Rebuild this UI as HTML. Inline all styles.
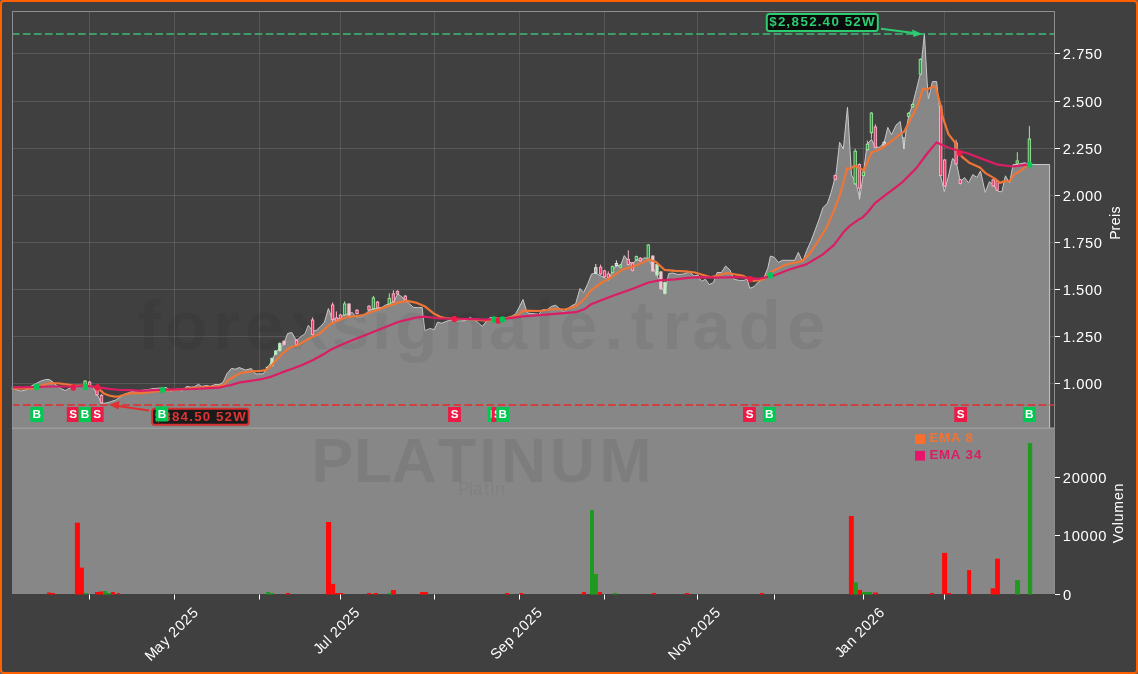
<!DOCTYPE html>
<html><head><meta charset="utf-8"><title>Platinum</title>
<style>html,body{margin:0;padding:0;background:#404040;width:1138px;height:674px;overflow:hidden}</style>
</head><body>
<svg width="1138" height="674" viewBox="0 0 1138 674" style="display:block;will-change:transform"><rect x="0" y="0" width="1138" height="674" fill="#5c5c5c"/><rect x="0" y="0" width="1138" height="674" rx="4" fill="#ff6000"/><rect x="2" y="2" width="1134" height="670" rx="2" fill="#404040"/><g fill="#fff" fill-opacity="0.12"><rect x="89" y="11" width="1" height="417"/><rect x="174" y="11" width="1" height="417"/><rect x="259" y="11" width="1" height="417"/><rect x="340" y="11" width="1" height="417"/><rect x="434" y="11" width="1" height="417"/><rect x="519" y="11" width="1" height="417"/><rect x="604" y="11" width="1" height="417"/><rect x="697" y="11" width="1" height="417"/><rect x="774" y="11" width="1" height="417"/><rect x="863" y="11" width="1" height="417"/><rect x="944" y="11" width="1" height="417"/><rect x="12" y="53" width="1042" height="1"/><rect x="12" y="101" width="1042" height="1"/><rect x="12" y="148" width="1042" height="1"/><rect x="12" y="195" width="1042" height="1"/><rect x="12" y="242" width="1042" height="1"/><rect x="12" y="289" width="1042" height="1"/><rect x="12" y="336" width="1042" height="1"/><rect x="12" y="383" width="1042" height="1"/></g><polygon points="12.5,428.0 12.5,388.5 20.5,391.0 26.0,390.0 32.0,385.6 37.0,383.0 41.0,381.0 45.8,379.5 49.0,379.5 52.2,381.3 56.0,385.0 60.6,388.4 65.4,390.6 69.0,388.4 75.0,387.0 81.7,386.0 87.0,386.0 91.2,385.5 93.3,388.1 95.9,391.8 98.5,397.1 100.1,400.8 101.7,402.9 103.8,403.4 108.0,402.6 111.7,401.3 115.4,400.2 117.5,398.7 120.7,396.8 124.9,393.9 128.1,392.9 132.8,391.3 137.6,390.8 148.8,389.4 153.2,388.6 161.0,388.0 166.4,387.5 170.8,391.2 177.8,388.6 182.2,391.2 186.6,386.4 191.0,387.2 194.5,386.8 198.5,384.2 201.5,386.4 206.8,385.5 210.3,386.4 214.7,384.6 219.1,384.6 223.0,382.4 227.0,373.6 231.4,368.4 235.3,369.2 239.3,367.5 245.4,370.0 251.3,368.6 255.8,374.0 263.2,373.8 267.4,367.8 271.5,361.5 275.7,352.2 280.9,347.0 284.0,343.4 287.6,333.5 291.8,332.5 296.5,340.8 300.6,336.6 304.8,334.0 308.4,325.2 312.6,331.4 316.2,330.4 320.3,326.7 324.5,322.1 328.4,308.5 332.2,319.0 337.3,319.0 345.0,314.7 352.4,312.5 356.1,316.9 361.3,316.9 364.3,315.0 369.5,310.2 376.2,308.4 382.1,307.3 385.4,305.0 389.5,303.9 394.0,301.3 397.7,293.9 401.4,296.5 404.4,299.1 408.8,303.2 413.3,307.3 417.7,307.6 422.2,307.6 422.9,314.7 424.9,330.6 430.0,328.5 434.4,329.6 437.5,322.2 441.7,323.2 447.0,321.1 451.2,320.0 457.6,321.1 465.0,320.6 470.3,317.5 477.7,322.2 482.4,326.4 486.0,321.7 490.3,317.5 500.0,318.0 507.2,318.0 511.4,316.4 515.6,313.8 518.8,308.0 523.0,299.5 526.2,310.0 528.3,313.2 538.8,314.3 543.0,309.5 547.3,309.5 551.5,306.4 555.7,305.3 560.0,309.0 563.6,311.7 567.3,309.0 571.5,305.9 575.7,303.7 580.0,288.5 583.7,292.5 587.9,283.5 591.6,274.0 595.8,273.0 600.0,275.6 605.3,278.2 608.5,280.3 612.7,269.8 616.4,265.6 620.6,265.6 624.3,255.6 628.5,261.4 632.7,263.5 636.4,259.8 640.6,260.3 644.3,257.7 648.5,258.7 652.8,267.7 657.0,275.0 661.2,286.7 664.9,293.0 668.6,273.5 672.8,273.0 678.0,274.5 683.3,274.0 689.7,271.9 693.9,276.1 698.0,275.0 701.3,281.4 705.5,279.3 709.2,284.6 713.5,282.5 717.1,272.5 721.4,272.5 725.6,266.1 729.8,269.8 734.0,279.3 739.3,280.4 744.6,280.4 746.7,277.7 749.8,288.3 754.0,286.7 758.3,282.0 763.5,278.8 767.8,268.2 770.4,256.1 774.1,257.2 778.3,262.4 782.5,260.3 789.9,260.3 794.7,260.3 798.3,252.4 802.6,261.9 806.8,250.3 811.0,241.0 815.0,230.4 819.2,219.1 822.8,207.9 827.5,203.1 831.1,192.5 836.0,174.2 839.6,142.3 843.3,149.0 847.5,107.1 851.5,174.9 856.0,183.0 859.7,198.6 863.4,173.4 867.0,144.5 871.5,139.3 874.5,146.0 879.0,147.5 884.0,143.0 887.8,127.4 891.5,134.9 896.0,125.2 900.2,121.5 902.4,137.0 903.9,149.0 906.1,129.7 909.1,114.0 912.3,106.0 916.4,89.5 920.4,73.4 924.4,33.4 927.0,80.0 928.4,98.8 930.4,90.8 932.4,81.6 936.6,81.6 939.5,108.6 940.5,175.3 944.3,191.7 948.2,177.2 952.5,158.3 956.4,162.8 960.3,181.7 964.5,177.5 968.6,182.9 972.8,174.6 977.0,177.5 980.5,171.0 985.2,192.4 989.4,181.7 993.6,185.2 997.7,191.2 1001.9,191.8 1005.4,175.8 1009.6,182.9 1013.1,164.5 1017.3,164.5 1025.0,162.7 1028.5,164.5 1049.6,164.5 1049.6,428.0" fill="#878787"/><polyline points="12.5,388.5 20.5,391.0 26.0,390.0 32.0,385.6 37.0,383.0 41.0,381.0 45.8,379.5 49.0,379.5 52.2,381.3 56.0,385.0 60.6,388.4 65.4,390.6 69.0,388.4 75.0,387.0 81.7,386.0 87.0,386.0 91.2,385.5 93.3,388.1 95.9,391.8 98.5,397.1 100.1,400.8 101.7,402.9 103.8,403.4 108.0,402.6 111.7,401.3 115.4,400.2 117.5,398.7 120.7,396.8 124.9,393.9 128.1,392.9 132.8,391.3 137.6,390.8 148.8,389.4 153.2,388.6 161.0,388.0 166.4,387.5 170.8,391.2 177.8,388.6 182.2,391.2 186.6,386.4 191.0,387.2 194.5,386.8 198.5,384.2 201.5,386.4 206.8,385.5 210.3,386.4 214.7,384.6 219.1,384.6 223.0,382.4 227.0,373.6 231.4,368.4 235.3,369.2 239.3,367.5 245.4,370.0 251.3,368.6 255.8,374.0 263.2,373.8 267.4,367.8 271.5,361.5 275.7,352.2 280.9,347.0 284.0,343.4 287.6,333.5 291.8,332.5 296.5,340.8 300.6,336.6 304.8,334.0 308.4,325.2 312.6,331.4 316.2,330.4 320.3,326.7 324.5,322.1 328.4,308.5 332.2,319.0 337.3,319.0 345.0,314.7 352.4,312.5 356.1,316.9 361.3,316.9 364.3,315.0 369.5,310.2 376.2,308.4 382.1,307.3 385.4,305.0 389.5,303.9 394.0,301.3 397.7,293.9 401.4,296.5 404.4,299.1 408.8,303.2 413.3,307.3 417.7,307.6 422.2,307.6 422.9,314.7 424.9,330.6 430.0,328.5 434.4,329.6 437.5,322.2 441.7,323.2 447.0,321.1 451.2,320.0 457.6,321.1 465.0,320.6 470.3,317.5 477.7,322.2 482.4,326.4 486.0,321.7 490.3,317.5 500.0,318.0 507.2,318.0 511.4,316.4 515.6,313.8 518.8,308.0 523.0,299.5 526.2,310.0 528.3,313.2 538.8,314.3 543.0,309.5 547.3,309.5 551.5,306.4 555.7,305.3 560.0,309.0 563.6,311.7 567.3,309.0 571.5,305.9 575.7,303.7 580.0,288.5 583.7,292.5 587.9,283.5 591.6,274.0 595.8,273.0 600.0,275.6 605.3,278.2 608.5,280.3 612.7,269.8 616.4,265.6 620.6,265.6 624.3,255.6 628.5,261.4 632.7,263.5 636.4,259.8 640.6,260.3 644.3,257.7 648.5,258.7 652.8,267.7 657.0,275.0 661.2,286.7 664.9,293.0 668.6,273.5 672.8,273.0 678.0,274.5 683.3,274.0 689.7,271.9 693.9,276.1 698.0,275.0 701.3,281.4 705.5,279.3 709.2,284.6 713.5,282.5 717.1,272.5 721.4,272.5 725.6,266.1 729.8,269.8 734.0,279.3 739.3,280.4 744.6,280.4 746.7,277.7 749.8,288.3 754.0,286.7 758.3,282.0 763.5,278.8 767.8,268.2 770.4,256.1 774.1,257.2 778.3,262.4 782.5,260.3 789.9,260.3 794.7,260.3 798.3,252.4 802.6,261.9 806.8,250.3 811.0,241.0 815.0,230.4 819.2,219.1 822.8,207.9 827.5,203.1 831.1,192.5 836.0,174.2 839.6,142.3 843.3,149.0 847.5,107.1 851.5,174.9 856.0,183.0 859.7,198.6 863.4,173.4 867.0,144.5 871.5,139.3 874.5,146.0 879.0,147.5 884.0,143.0 887.8,127.4 891.5,134.9 896.0,125.2 900.2,121.5 902.4,137.0 903.9,149.0 906.1,129.7 909.1,114.0 912.3,106.0 916.4,89.5 920.4,73.4 924.4,33.4 927.0,80.0 928.4,98.8 930.4,90.8 932.4,81.6 936.6,81.6 939.5,108.6 940.5,175.3 944.3,191.7 948.2,177.2 952.5,158.3 956.4,162.8 960.3,181.7 964.5,177.5 968.6,182.9 972.8,174.6 977.0,177.5 980.5,171.0 985.2,192.4 989.4,181.7 993.6,185.2 997.7,191.2 1001.9,191.8 1005.4,175.8 1009.6,182.9 1013.1,164.5 1017.3,164.5 1025.0,162.7 1028.5,164.5 1049.6,164.5 1049.6,428.0" fill="none" stroke="#c8c8c8" stroke-width="1" stroke-linejoin="round"/><rect x="12" y="428" width="1043" height="166" fill="#878787"/><rect x="47.0" y="592.5" width="4.0" height="2.0" fill="#ff0a0a"/><rect x="51.0" y="593.0" width="4.0" height="1.5" fill="#ff0a0a"/><rect x="74.9" y="522.7" width="5.0" height="71.8" fill="#ff0a0a"/><rect x="79.9" y="567.6" width="4.0" height="26.9" fill="#ff0a0a"/><rect x="83.9" y="593.0" width="4.1" height="1.5" fill="#1f9a1f"/><rect x="95.0" y="592.0" width="4.0" height="2.5" fill="#ff0a0a"/><rect x="99.0" y="591.5" width="4.0" height="3.0" fill="#ff0a0a"/><rect x="103.0" y="591.0" width="4.0" height="3.5" fill="#1f9a1f"/><rect x="107.0" y="593.0" width="4.0" height="1.5" fill="#1f9a1f"/><rect x="111.0" y="592.0" width="4.0" height="2.5" fill="#ff0a0a"/><rect x="117.0" y="593.0" width="3.0" height="1.5" fill="#ff0a0a"/><rect x="266.0" y="592.0" width="4.0" height="2.5" fill="#1f9a1f"/><rect x="270.0" y="593.0" width="4.0" height="1.5" fill="#1f9a1f"/><rect x="286.0" y="593.0" width="4.0" height="1.5" fill="#ff0a0a"/><rect x="326.0" y="522.0" width="5.2" height="72.5" fill="#ff0a0a"/><rect x="331.2" y="583.9" width="4.0" height="10.6" fill="#ff0a0a"/><rect x="335.2" y="593.0" width="7.8" height="1.5" fill="#ff0a0a"/><rect x="367.0" y="593.0" width="4.0" height="1.5" fill="#ff0a0a"/><rect x="374.0" y="593.0" width="4.0" height="1.5" fill="#ff0a0a"/><rect x="388.0" y="593.0" width="4.0" height="1.5" fill="#1f9a1f"/><rect x="391.0" y="590.0" width="5.0" height="4.5" fill="#ff0a0a"/><rect x="420.0" y="592.0" width="8.0" height="2.5" fill="#ff0a0a"/><rect x="505.0" y="593.0" width="4.0" height="1.5" fill="#ff0a0a"/><rect x="519.0" y="593.0" width="4.0" height="1.5" fill="#ff0a0a"/><rect x="582.0" y="592.0" width="4.0" height="2.5" fill="#ff0a0a"/><rect x="590.0" y="510.1" width="4.0" height="84.4" fill="#1f9a1f"/><rect x="594.0" y="574.0" width="3.9" height="20.5" fill="#1f9a1f"/><rect x="597.9" y="592.0" width="4.1" height="2.5" fill="#ff0a0a"/><rect x="613.0" y="593.0" width="4.0" height="1.5" fill="#1f9a1f"/><rect x="652.0" y="593.0" width="4.0" height="1.5" fill="#ff0a0a"/><rect x="685.0" y="593.0" width="4.0" height="1.5" fill="#ff0a0a"/><rect x="760.0" y="593.0" width="4.0" height="1.5" fill="#ff0a0a"/><rect x="848.9" y="516.0" width="4.9" height="78.5" fill="#ff0a0a"/><rect x="853.8" y="582.4" width="4.1" height="12.1" fill="#1f9a1f"/><rect x="857.9" y="589.9" width="4.1" height="4.6" fill="#ff0a0a"/><rect x="862.0" y="592.0" width="10.0" height="2.5" fill="#1f9a1f"/><rect x="873.0" y="592.5" width="5.0" height="2.0" fill="#ff0a0a"/><rect x="930.0" y="593.0" width="4.0" height="1.5" fill="#ff0a0a"/><rect x="942.1" y="552.9" width="5.1" height="41.6" fill="#ff0a0a"/><rect x="947.2" y="593.0" width="3.8" height="1.5" fill="#ff0a0a"/><rect x="967.1" y="570.1" width="4.0" height="24.4" fill="#ff0a0a"/><rect x="990.6" y="588.3" width="4.5" height="6.2" fill="#ff0a0a"/><rect x="995.1" y="558.7" width="4.8" height="35.8" fill="#ff0a0a"/><rect x="1015.0" y="580.2" width="5.1" height="14.3" fill="#1f9a1f"/><rect x="1027.9" y="443.1" width="4.3" height="151.4" fill="#1f9a1f"/><text x="137.81 165.36 213.30 245.29 289.77 331.44 372.00 395.35 443.42 489.05 535.02 559.08 604.33 630.67 662.38 692.18 738.63 787.08" y="349.00" style="font-family:&quot;Liberation Sans&quot;,sans-serif;font-weight:bold;font-size:69.00px;" fill="#000" fill-opacity="0.06">forexsignale.trade</text><text x="311.52 353.99 391.42 437.77 479.30 501.10 549.76 599.56" y="481.50" style="font-family:&quot;Liberation Sans&quot;,sans-serif;font-weight:bold;font-size:62.54px;" fill="#000" fill-opacity="0.07">PLATINUM</text><text x="458.13 469.09 472.96 484.36 490.48 495.18" y="495.30" style="font-family:&quot;Liberation Sans&quot;,sans-serif;font-size:17.50px;" fill="#000" fill-opacity="0.05">Platin</text><line x1="12.5" y1="34" x2="1054" y2="34" stroke="#3cb371" stroke-width="2" stroke-dasharray="7.71 3.33" stroke-dashoffset="0.7" stroke-opacity="0.8"/><line x1="12.5" y1="405" x2="1054" y2="405" stroke="#e03030" stroke-width="2" stroke-dasharray="7.71 3.33" stroke-dashoffset="0.7" stroke-opacity="0.8"/><line x1="85.1" y1="380.1" x2="85.1" y2="385.3" stroke="#9be89b" stroke-width="1"/><rect x="83.9" y="381.1" width="2.4" height="3.2" fill="#2f8f45" stroke="#9be89b" stroke-width="0.9"/><line x1="89.6" y1="381.1" x2="89.6" y2="386.3" stroke="#ffb3c6" stroke-width="1"/><rect x="88.4" y="382.1" width="2.4" height="3.2" fill="#e0406a" stroke="#ffb3c6" stroke-width="0.9"/><line x1="97" y1="389" x2="97" y2="395.8" stroke="#ffb3c6" stroke-width="1"/><rect x="95.8" y="390" width="2.4" height="4.8" fill="#e0406a" stroke="#ffb3c6" stroke-width="0.9"/><line x1="101.5" y1="394.3" x2="101.5" y2="403.7" stroke="#ffb3c6" stroke-width="1"/><rect x="100.3" y="395.3" width="2.4" height="7.4" fill="#e0406a" stroke="#ffb3c6" stroke-width="0.9"/><line x1="267.4" y1="366.3" x2="267.4" y2="369.8" stroke="#b5e6b8" stroke-width="1"/><rect x="266.2" y="367.3" width="2.4" height="1.5" fill="#c8eccb" stroke="#b5e6b8" stroke-width="0.9"/><line x1="272" y1="357.4" x2="272" y2="366.7" stroke="#b5e6b8" stroke-width="1"/><rect x="270.8" y="358.4" width="2.4" height="7.3" fill="#c8eccb" stroke="#b5e6b8" stroke-width="0.9"/><line x1="275.7" y1="350" x2="275.7" y2="355.3" stroke="#b5e6b8" stroke-width="1"/><rect x="274.5" y="351" width="2.4" height="3.3" fill="#c8eccb" stroke="#b5e6b8" stroke-width="0.9"/><line x1="279.8" y1="342.4" x2="279.8" y2="351.6" stroke="#b5e6b8" stroke-width="1"/><rect x="278.6" y="343.4" width="2.4" height="7.2" fill="#c8eccb" stroke="#b5e6b8" stroke-width="0.9"/><line x1="284" y1="340.3" x2="284" y2="345.4" stroke="#f0b9c6" stroke-width="1"/><rect x="282.8" y="341.3" width="2.4" height="3.1" fill="#f3c9d3" stroke="#f0b9c6" stroke-width="0.9"/><line x1="296.5" y1="339.2" x2="296.5" y2="345.4" stroke="#ffb3c6" stroke-width="1"/><rect x="295.3" y="340.2" width="2.4" height="4.2" fill="#e0406a" stroke="#ffb3c6" stroke-width="0.9"/><line x1="312.6" y1="317.4" x2="312.6" y2="335.5" stroke="#ffb3c6" stroke-width="1"/><rect x="311.4" y="320" width="2.4" height="14.5" fill="#e0406a" stroke="#ffb3c6" stroke-width="0.9"/><line x1="332.6" y1="302.5" x2="332.6" y2="323.8" stroke="#ffb3c6" stroke-width="1"/><rect x="331.4" y="305" width="2.4" height="14.5" fill="#e0406a" stroke="#ffb3c6" stroke-width="0.9"/><line x1="336.4" y1="311.4" x2="336.4" y2="321.5" stroke="#ffb3c6" stroke-width="1"/><rect x="335.2" y="318" width="2.4" height="2.5" fill="#e0406a" stroke="#ffb3c6" stroke-width="0.9"/><line x1="340.5" y1="314" x2="340.5" y2="319.4" stroke="#ffb3c6" stroke-width="1"/><rect x="339.3" y="315" width="2.4" height="3.4" fill="#e0406a" stroke="#ffb3c6" stroke-width="0.9"/><line x1="344.6" y1="301.4" x2="344.6" y2="316" stroke="#9be89b" stroke-width="1"/><rect x="343.4" y="303.9" width="2.4" height="11.1" fill="#2f8f45" stroke="#9be89b" stroke-width="0.9"/><line x1="349" y1="303" x2="349" y2="316" stroke="#f0b9c6" stroke-width="1"/><rect x="347.8" y="304" width="2.4" height="11.0" fill="#f3c9d3" stroke="#f0b9c6" stroke-width="0.9"/><line x1="357" y1="309.2" x2="357" y2="314.6" stroke="#ffb3c6" stroke-width="1"/><rect x="355.8" y="310.2" width="2.4" height="3.4" fill="#e0406a" stroke="#ffb3c6" stroke-width="0.9"/><line x1="369" y1="305.2" x2="369" y2="310.9" stroke="#ffb3c6" stroke-width="1"/><rect x="367.8" y="306.2" width="2.4" height="3.7" fill="#e0406a" stroke="#ffb3c6" stroke-width="0.9"/><line x1="373.4" y1="295.9" x2="373.4" y2="309.7" stroke="#9be89b" stroke-width="1"/><rect x="372.2" y="298" width="2.4" height="10.7" fill="#2f8f45" stroke="#9be89b" stroke-width="0.9"/><line x1="377.5" y1="301" x2="377.5" y2="309" stroke="#ffb3c6" stroke-width="1"/><rect x="376.3" y="302" width="2.4" height="6.0" fill="#e0406a" stroke="#ffb3c6" stroke-width="0.9"/><line x1="389.3" y1="293.3" x2="389.3" y2="304.9" stroke="#9be89b" stroke-width="1"/><rect x="388.1" y="298.4" width="2.4" height="5.5" fill="#2f8f45" stroke="#9be89b" stroke-width="0.9"/><line x1="393.4" y1="290.3" x2="393.4" y2="302.7" stroke="#ffb3c6" stroke-width="1"/><rect x="392.2" y="293.9" width="2.4" height="7.8" fill="#e0406a" stroke="#ffb3c6" stroke-width="0.9"/><line x1="397.5" y1="290.3" x2="397.5" y2="294.9" stroke="#ffb3c6" stroke-width="1"/><rect x="396.3" y="291.3" width="2.4" height="2.6" fill="#e0406a" stroke="#ffb3c6" stroke-width="0.9"/><line x1="405.3" y1="295.1" x2="405.3" y2="300.8" stroke="#ffb3c6" stroke-width="1"/><rect x="404.1" y="296.1" width="2.4" height="3.7" fill="#e0406a" stroke="#ffb3c6" stroke-width="0.9"/><line x1="595.8" y1="264" x2="595.8" y2="274" stroke="#e8e8e8" stroke-width="1"/><rect x="594.6" y="267.7" width="2.4" height="5.3" fill="#b0b0b0" stroke="#e8e8e8" stroke-width="0.9"/><line x1="600.6" y1="264.6" x2="600.6" y2="275" stroke="#ffb3c6" stroke-width="1"/><rect x="599.4" y="267.2" width="2.4" height="6.8" fill="#e0406a" stroke="#ffb3c6" stroke-width="0.9"/><line x1="604.5" y1="269.9" x2="604.5" y2="277.7" stroke="#ffb3c6" stroke-width="1"/><rect x="603.3" y="270.9" width="2.4" height="5.8" fill="#e0406a" stroke="#ffb3c6" stroke-width="0.9"/><line x1="608.3" y1="271.4" x2="608.3" y2="278.7" stroke="#ffb3c6" stroke-width="1"/><rect x="607.1" y="274" width="2.4" height="3.7" fill="#e0406a" stroke="#ffb3c6" stroke-width="0.9"/><line x1="612.5" y1="265.6" x2="612.5" y2="273.4" stroke="#9be89b" stroke-width="1"/><rect x="611.3" y="266.6" width="2.4" height="5.8" fill="#2f8f45" stroke="#9be89b" stroke-width="0.9"/><line x1="616.4" y1="260.4" x2="616.4" y2="266.6" stroke="#e8e8e8" stroke-width="1"/><rect x="615.2" y="263.5" width="2.4" height="2.1" fill="#b0b0b0" stroke="#e8e8e8" stroke-width="0.9"/><line x1="620.4" y1="264" x2="620.4" y2="268.2" stroke="#9be89b" stroke-width="1"/><rect x="619.2" y="265" width="2.4" height="2.2" fill="#2f8f45" stroke="#9be89b" stroke-width="0.9"/><line x1="628.3" y1="250.3" x2="628.3" y2="265.5" stroke="#ffb3c6" stroke-width="1"/><rect x="627.1" y="259.3" width="2.4" height="5.2" fill="#e0406a" stroke="#ffb3c6" stroke-width="0.9"/><line x1="632.5" y1="262" x2="632.5" y2="271.3" stroke="#ffb3c6" stroke-width="1"/><rect x="631.3" y="263" width="2.4" height="7.3" fill="#e0406a" stroke="#ffb3c6" stroke-width="0.9"/><line x1="636.4" y1="255.60000000000002" x2="636.4" y2="260.8" stroke="#9be89b" stroke-width="1"/><rect x="635.2" y="256.6" width="2.4" height="3.2" fill="#2f8f45" stroke="#9be89b" stroke-width="0.9"/><line x1="640.3" y1="257.2" x2="640.3" y2="261.8" stroke="#ffb3c6" stroke-width="1"/><rect x="639.1" y="258.2" width="2.4" height="2.6" fill="#e0406a" stroke="#ffb3c6" stroke-width="0.9"/><line x1="648.3" y1="244" x2="648.3" y2="259.2" stroke="#9be89b" stroke-width="1"/><rect x="647.1" y="245" width="2.4" height="13.2" fill="#2f8f45" stroke="#9be89b" stroke-width="0.9"/><line x1="652.8" y1="255.10000000000002" x2="652.8" y2="271.9" stroke="#f0b9c6" stroke-width="1"/><rect x="651.6" y="256.1" width="2.4" height="14.8" fill="#f3c9d3" stroke="#f0b9c6" stroke-width="0.9"/><line x1="657" y1="263.5" x2="657" y2="276" stroke="#b5e6b8" stroke-width="1"/><rect x="655.8" y="264.5" width="2.4" height="10.5" fill="#c8eccb" stroke="#b5e6b8" stroke-width="0.9"/><line x1="660.9" y1="270.9" x2="660.9" y2="289.8" stroke="#f0b9c6" stroke-width="1"/><rect x="659.7" y="271.9" width="2.4" height="16.9" fill="#f3c9d3" stroke="#f0b9c6" stroke-width="0.9"/><line x1="664.9" y1="281.5" x2="664.9" y2="294.5" stroke="#b5e6b8" stroke-width="1"/><rect x="663.7" y="282.5" width="2.4" height="11.0" fill="#c8eccb" stroke="#b5e6b8" stroke-width="0.9"/><line x1="835.2" y1="174.6" x2="835.2" y2="180.3" stroke="#ffb3c6" stroke-width="1"/><rect x="834.0" y="175.6" width="2.4" height="3.7" fill="#e0406a" stroke="#ffb3c6" stroke-width="0.9"/><line x1="855.2" y1="148.7" x2="855.2" y2="184.8" stroke="#9be89b" stroke-width="1"/><rect x="854.0" y="151.2" width="2.4" height="32.6" fill="#2f8f45" stroke="#9be89b" stroke-width="0.9"/><line x1="859.4" y1="163.5" x2="859.4" y2="199.6" stroke="#ffb3c6" stroke-width="1"/><rect x="858.2" y="164.5" width="2.4" height="23.7" fill="#e0406a" stroke="#ffb3c6" stroke-width="0.9"/><line x1="863.4" y1="171" x2="863.4" y2="176.6" stroke="#9be89b" stroke-width="1"/><rect x="862.2" y="172" width="2.4" height="3.6" fill="#2f8f45" stroke="#9be89b" stroke-width="0.9"/><line x1="867.4" y1="140.5" x2="867.4" y2="150.7" stroke="#9be89b" stroke-width="1"/><rect x="866.2" y="144.2" width="2.4" height="5.5" fill="#2f8f45" stroke="#9be89b" stroke-width="0.9"/><line x1="871.4" y1="112.1" x2="871.4" y2="138.6" stroke="#9be89b" stroke-width="1"/><rect x="870.2" y="113.1" width="2.4" height="19.6" fill="#2f8f45" stroke="#9be89b" stroke-width="0.9"/><line x1="875.4" y1="124.4" x2="875.4" y2="148.4" stroke="#ffb3c6" stroke-width="1"/><rect x="874.2" y="127" width="2.4" height="20.4" fill="#e0406a" stroke="#ffb3c6" stroke-width="0.9"/><line x1="884.1" y1="141.3" x2="884.1" y2="147" stroke="#e8e8e8" stroke-width="1"/><rect x="882.9" y="142.3" width="2.4" height="3.7" fill="#b0b0b0" stroke="#e8e8e8" stroke-width="0.9"/><line x1="903.9" y1="137" x2="903.9" y2="149" stroke="#d8d8d8" stroke-width="1.2"/><line x1="908.6" y1="112.3" x2="908.6" y2="117.3" stroke="#9be89b" stroke-width="1"/><rect x="907.4" y="113.3" width="2.4" height="3.0" fill="#2f8f45" stroke="#9be89b" stroke-width="0.9"/><line x1="912.5" y1="103.4" x2="912.5" y2="107.7" stroke="#9be89b" stroke-width="1"/><rect x="911.3" y="104.4" width="2.4" height="2.3" fill="#2f8f45" stroke="#9be89b" stroke-width="0.9"/><line x1="920.4" y1="58.4" x2="920.4" y2="75.1" stroke="#9be89b" stroke-width="1"/><rect x="919.2" y="59.4" width="2.4" height="14.7" fill="#2f8f45" stroke="#9be89b" stroke-width="0.9"/><line x1="940.7" y1="105" x2="940.7" y2="176.6" stroke="#ffb3c6" stroke-width="1"/><rect x="939.5" y="106" width="2.4" height="69.6" fill="#e0406a" stroke="#ffb3c6" stroke-width="0.9"/><line x1="944.7" y1="159" x2="944.7" y2="187" stroke="#ffb3c6" stroke-width="1"/><rect x="943.5" y="160" width="2.4" height="26.0" fill="#e0406a" stroke="#ffb3c6" stroke-width="0.9"/><line x1="956.1" y1="139.8" x2="956.1" y2="164.8" stroke="#ffb3c6" stroke-width="1"/><rect x="954.9" y="143" width="2.4" height="20.8" fill="#e0406a" stroke="#ffb3c6" stroke-width="0.9"/><line x1="960.3" y1="178.9" x2="960.3" y2="184.5" stroke="#ffb3c6" stroke-width="1"/><rect x="959.1" y="179.9" width="2.4" height="3.6" fill="#e0406a" stroke="#ffb3c6" stroke-width="0.9"/><line x1="993.2" y1="178.9" x2="993.2" y2="186.8" stroke="#ffb3c6" stroke-width="1"/><rect x="992.0" y="179.9" width="2.4" height="5.9" fill="#e0406a" stroke="#ffb3c6" stroke-width="0.9"/><line x1="997.1" y1="180.1" x2="997.1" y2="191" stroke="#ffb3c6" stroke-width="1"/><rect x="995.9" y="181.1" width="2.4" height="8.9" fill="#e0406a" stroke="#ffb3c6" stroke-width="0.9"/><line x1="1017.3" y1="152.2" x2="1017.3" y2="164.3" stroke="#9be89b" stroke-width="1"/><rect x="1016.1" y="160.9" width="2.4" height="2.4" fill="#2f8f45" stroke="#9be89b" stroke-width="0.9"/><line x1="1029.4" y1="126.1" x2="1029.4" y2="165.5" stroke="#9be89b" stroke-width="1"/><rect x="1028.2" y="139" width="2.4" height="25.5" fill="#2f8f45" stroke="#9be89b" stroke-width="0.9"/><polyline points="12.5,388.7 33.0,388.5 40.0,386.0 50.0,383.0 60.0,383.5 73.0,385.3 90.0,385.8 96.0,388.0 99.6,389.7 103.8,393.4 109.1,395.5 114.4,396.6 119.6,396.3 124.9,394.5 130.2,393.4 135.4,392.9 140.0,393.4 148.8,392.5 157.6,391.2 175.1,389.9 192.7,388.1 210.3,386.8 219.1,386.4 224.4,384.6 227.9,380.2 234.0,376.5 240.0,373.2 250.8,371.4 261.2,370.9 266.3,369.8 271.5,365.7 276.7,359.5 281.9,354.3 287.1,349.6 292.3,346.5 297.5,345.5 302.7,342.3 307.9,339.2 313.1,336.6 318.3,334.5 323.5,330.4 330.0,324.2 345.4,317.6 363.0,315.0 380.6,308.8 398.2,302.6 407.0,300.9 415.7,302.6 424.5,306.2 433.3,313.2 440.0,316.7 445.0,318.0 455.5,319.0 470.0,319.2 486.0,320.6 507.0,318.0 517.7,315.3 523.0,310.6 538.8,311.0 554.6,309.0 565.0,309.5 575.7,306.4 585.0,298.5 590.5,290.9 601.0,283.0 611.6,277.2 622.0,269.8 632.7,266.6 643.3,262.4 648.5,259.3 656.0,262.0 664.4,269.8 675.0,270.9 685.5,271.4 695.0,272.5 710.8,277.2 726.6,273.0 742.5,275.6 753.0,280.9 763.5,279.3 772.0,271.4 784.6,265.0 790.0,263.6 802.2,261.1 809.6,253.8 817.7,241.6 825.9,228.5 834.0,210.6 840.6,192.6 843.8,181.2 847.1,168.2 850.4,169.0 854.4,165.7 859.7,168.2 864.0,170.4 871.5,152.6 880.4,149.0 889.3,143.0 900.0,134.1 903.9,131.9 914.3,111.9 918.0,104.0 923.0,88.8 927.0,89.5 931.0,87.5 935.0,86.0 937.7,94.8 941.0,106.8 942.5,116.3 948.4,134.1 955.0,142.5 957.4,150.8 962.1,156.8 969.2,162.7 979.9,167.4 985.8,173.4 994.1,178.1 1000.0,182.9 1004.8,181.1 1009.6,181.1 1014.3,174.6 1020.2,171.0 1026.2,166.3 1029.7,164.5" fill="none" stroke="#ee7536" stroke-width="2.2" stroke-linejoin="round" stroke-linecap="round"/><polyline points="12.5,387.4 35.0,387.0 50.0,386.5 73.0,386.5 88.0,386.0 98.5,387.3 109.0,388.9 119.6,390.0 130.2,390.2 140.0,390.8 157.6,389.9 175.1,389.4 192.7,389.0 210.3,388.1 219.1,387.7 227.9,385.5 230.0,385.4 240.4,382.3 250.8,380.8 261.2,379.2 271.5,376.6 281.9,372.4 292.3,368.8 302.7,364.7 313.1,360.0 323.5,354.3 330.0,350.1 345.4,343.1 363.0,336.0 380.6,329.0 398.2,322.0 415.7,317.6 424.5,316.7 440.0,318.5 445.0,318.5 470.0,319.0 486.0,319.6 507.0,318.5 523.0,316.4 549.0,314.3 575.7,312.2 585.0,309.0 590.5,304.6 611.6,296.2 632.7,288.8 648.5,282.5 659.0,280.3 675.0,279.3 690.7,277.7 700.0,277.2 716.0,277.7 737.2,277.2 758.3,278.8 774.1,275.6 790.0,269.3 806.3,264.4 822.6,254.6 834.0,244.8 843.8,231.8 850.4,225.3 860.0,218.7 862.0,218.0 867.9,212.0 875.0,203.1 886.4,194.3 901.3,183.2 916.1,168.4 927.2,153.5 936.5,142.4 949.5,148.0 968.0,153.5 982.9,159.1 997.7,164.7 1012.6,166.5 1027.4,164.7" fill="none" stroke="#da1d64" stroke-width="2.2" stroke-linejoin="round" stroke-linecap="round"/><ellipse cx="36.6" cy="386.9" rx="2.7" ry="3.3" fill="#00c853"/><ellipse cx="73.3" cy="387.6" rx="2.7" ry="3.3" fill="#ec1a44"/><ellipse cx="85.4" cy="386.9" rx="2.7" ry="3.3" fill="#00c853"/><ellipse cx="97.5" cy="387.4" rx="2.7" ry="3.3" fill="#ec1a44"/><ellipse cx="162.7" cy="390" rx="2.7" ry="3.3" fill="#00c853"/><ellipse cx="454.4" cy="319" rx="2.7" ry="3.3" fill="#ec1a44"/><ellipse cx="494" cy="319.6" rx="2.7" ry="3.3" fill="#00c853"/><ellipse cx="498.2" cy="320.6" rx="2.7" ry="3.3" fill="#ec1a44"/><ellipse cx="502.4" cy="319.6" rx="2.7" ry="3.3" fill="#00c853"/><ellipse cx="750.4" cy="279.3" rx="2.7" ry="3.3" fill="#ec1a44"/><ellipse cx="770.4" cy="275.4" rx="2.7" ry="3.3" fill="#00c853"/><ellipse cx="959.7" cy="153.2" rx="2.7" ry="3.3" fill="#ec1a44"/><ellipse cx="1029.7" cy="164.5" rx="2.7" ry="3.3" fill="#00c853"/><rect x="30.3" y="407" width="12.8" height="15" fill="#00c853"/><text x="32.44" y="418.30" style="font-family:&quot;Liberation Sans&quot;,sans-serif;font-weight:bold;font-size:11.77px;" fill="#fff">B</text><rect x="66.8" y="407" width="12.8" height="15" fill="#ec1a44"/><text x="69.33" y="418.30" style="font-family:&quot;Liberation Sans&quot;,sans-serif;font-weight:bold;font-size:11.77px;" fill="#fff">S</text><rect x="78.5" y="407" width="12.8" height="15" fill="#00c853"/><text x="80.64" y="418.30" style="font-family:&quot;Liberation Sans&quot;,sans-serif;font-weight:bold;font-size:11.77px;" fill="#fff">B</text><rect x="90.8" y="407" width="12.8" height="15" fill="#ec1a44"/><text x="93.33" y="418.30" style="font-family:&quot;Liberation Sans&quot;,sans-serif;font-weight:bold;font-size:11.77px;" fill="#fff">S</text><rect x="155.7" y="407" width="12.8" height="15" fill="#00c853"/><text x="157.84" y="418.30" style="font-family:&quot;Liberation Sans&quot;,sans-serif;font-weight:bold;font-size:11.77px;" fill="#fff">B</text><rect x="448.1" y="407" width="12.8" height="15" fill="#ec1a44"/><text x="450.63" y="418.30" style="font-family:&quot;Liberation Sans&quot;,sans-serif;font-weight:bold;font-size:11.77px;" fill="#fff">S</text><rect x="487.8" y="407" width="12.8" height="15" fill="#00c853"/><text x="489.94" y="418.30" style="font-family:&quot;Liberation Sans&quot;,sans-serif;font-weight:bold;font-size:11.77px;" fill="#fff">B</text><rect x="491.5" y="407" width="12.8" height="15" fill="#ec1a44"/><text x="494.03" y="418.30" style="font-family:&quot;Liberation Sans&quot;,sans-serif;font-weight:bold;font-size:11.77px;" fill="#fff">S</text><rect x="496.3" y="407" width="12.8" height="15" fill="#00c853"/><text x="498.44" y="418.30" style="font-family:&quot;Liberation Sans&quot;,sans-serif;font-weight:bold;font-size:11.77px;" fill="#fff">B</text><rect x="743.1" y="407" width="12.8" height="15" fill="#ec1a44"/><text x="745.63" y="418.30" style="font-family:&quot;Liberation Sans&quot;,sans-serif;font-weight:bold;font-size:11.77px;" fill="#fff">S</text><rect x="762.9" y="407" width="12.8" height="15" fill="#00c853"/><text x="765.04" y="418.30" style="font-family:&quot;Liberation Sans&quot;,sans-serif;font-weight:bold;font-size:11.77px;" fill="#fff">B</text><rect x="954.3" y="407" width="12.8" height="15" fill="#ec1a44"/><text x="956.83" y="418.30" style="font-family:&quot;Liberation Sans&quot;,sans-serif;font-weight:bold;font-size:11.77px;" fill="#fff">S</text><rect x="1022.9" y="407" width="12.8" height="15" fill="#00c853"/><text x="1025.04" y="418.30" style="font-family:&quot;Liberation Sans&quot;,sans-serif;font-weight:bold;font-size:11.77px;" fill="#fff">B</text><rect x="12" y="11" width="1042" height="1" fill="#8e8e8e"/><rect x="12" y="11" width="1" height="417" fill="#8e8e8e"/><rect x="1054" y="11" width="1" height="583" fill="#8e8e8e"/><rect x="12" y="427.5" width="1042" height="1.5" fill="#9c9c9c"/><rect x="1055" y="53" width="5" height="1" fill="#fff"/><text x="1062.72 1071.58 1076.13 1084.94 1093.83" y="59.00" style="font-family:&quot;Liberation Sans&quot;,sans-serif;font-size:14.72px;" fill="#fff">2.750</text><rect x="1055" y="101" width="5" height="1" fill="#fff"/><text x="1062.72 1071.58 1076.10 1084.99 1093.83" y="107.00" style="font-family:&quot;Liberation Sans&quot;,sans-serif;font-size:14.72px;" fill="#fff">2.500</text><rect x="1055" y="148" width="5" height="1" fill="#fff"/><text x="1062.72 1071.58 1075.97 1084.94 1093.83" y="154.00" style="font-family:&quot;Liberation Sans&quot;,sans-serif;font-size:14.72px;" fill="#fff">2.250</text><rect x="1055" y="195" width="5" height="1" fill="#fff"/><text x="1062.72 1071.58 1076.16 1084.99 1093.83" y="201.00" style="font-family:&quot;Liberation Sans&quot;,sans-serif;font-size:14.72px;" fill="#fff">2.000</text><rect x="1055" y="242" width="5" height="1" fill="#fff"/><text x="1062.83 1071.58 1076.13 1084.94 1093.83" y="248.00" style="font-family:&quot;Liberation Sans&quot;,sans-serif;font-size:14.72px;" fill="#fff">1.750</text><rect x="1055" y="289" width="5" height="1" fill="#fff"/><text x="1062.83 1071.58 1076.10 1084.99 1093.83" y="295.00" style="font-family:&quot;Liberation Sans&quot;,sans-serif;font-size:14.72px;" fill="#fff">1.500</text><rect x="1055" y="336" width="5" height="1" fill="#fff"/><text x="1062.83 1071.58 1075.97 1084.94 1093.83" y="342.00" style="font-family:&quot;Liberation Sans&quot;,sans-serif;font-size:14.72px;" fill="#fff">1.250</text><rect x="1055" y="383" width="5" height="1" fill="#fff"/><text x="1062.83 1071.58 1076.16 1084.99 1093.83" y="389.00" style="font-family:&quot;Liberation Sans&quot;,sans-serif;font-size:14.72px;" fill="#fff">1.000</text><rect x="1055" y="477" width="5" height="1" fill="#fff"/><text x="1062.72 1071.74 1080.58 1089.42 1098.25" y="483.00" style="font-family:&quot;Liberation Sans&quot;,sans-serif;font-size:14.72px;" fill="#fff">20000</text><rect x="1055" y="535" width="5" height="1" fill="#fff"/><text x="1062.83 1071.74 1080.58 1089.42 1098.25" y="541.00" style="font-family:&quot;Liberation Sans&quot;,sans-serif;font-size:14.72px;" fill="#fff">10000</text><rect x="1055" y="594" width="5" height="1" fill="#fff"/><text x="1062.90" y="600.00" style="font-family:&quot;Liberation Sans&quot;,sans-serif;font-size:14.72px;" fill="#fff">0</text><rect x="89" y="594.5" width="1" height="5" fill="#fff"/><rect x="174" y="594.5" width="1" height="5" fill="#fff"/><rect x="259" y="594.5" width="1" height="5" fill="#fff"/><rect x="340" y="594.5" width="1" height="5" fill="#fff"/><rect x="434" y="594.5" width="1" height="5" fill="#fff"/><rect x="519" y="594.5" width="1" height="5" fill="#fff"/><rect x="604" y="594.5" width="1" height="5" fill="#fff"/><rect x="697" y="594.5" width="1" height="5" fill="#fff"/><rect x="774" y="594.5" width="1" height="5" fill="#fff"/><rect x="863" y="594.5" width="1" height="5" fill="#fff"/><rect x="944" y="594.5" width="1" height="5" fill="#fff"/><text x="140.68 152.42 161.72 169.66 174.07 183.09 191.74 200.71" y="637.55" transform="rotate(-45 175.00 637.55)" style="font-family:&quot;Liberation Sans&quot;,sans-serif;font-size:14.58px;" fill="#fff">May 2025</text><text x="310.33 316.95 325.75 329.48 333.89 342.91 351.56 360.53" y="633.32" transform="rotate(-45 340.80 633.32)" style="font-family:&quot;Liberation Sans&quot;,sans-serif;font-size:14.58px;" fill="#fff">Jul 2025</text><text x="486.55 495.99 504.73 513.29 517.70 526.72 535.37 544.34" y="636.65" transform="rotate(-45 519.90 636.65)" style="font-family:&quot;Liberation Sans&quot;,sans-serif;font-size:14.58px;" fill="#fff">Sep 2025</text><text x="664.29 674.95 683.72 691.65 696.06 705.08 713.74 722.71" y="636.98" transform="rotate(-45 697.80 636.98)" style="font-family:&quot;Liberation Sans&quot;,sans-serif;font-size:14.58px;" fill="#fff">Nov 2025</text><text x="831.10 837.09 846.30 854.91 859.32 868.34 876.99 886.01" y="634.97" transform="rotate(-45 863.90 634.97)" style="font-family:&quot;Liberation Sans&quot;,sans-serif;font-size:14.58px;" fill="#fff">Jan 2026</text><text x="1119.57 1128.79 1133.89 1142.24 1145.74" y="239.22" transform="rotate(-90 1120 239.22)" style="font-family:&quot;Liberation Sans&quot;,sans-serif;font-size:14.13px;" fill="#fff">Preis</text><text x="1122.79 1132.32 1140.68 1144.44 1153.39 1166.06 1174.49" y="543.11" transform="rotate(-90 1122.9 543.11)" style="font-family:&quot;Liberation Sans&quot;,sans-serif;font-size:14.16px;" fill="#fff">Volumen</text><rect x="915" y="434.2" width="10" height="9.7" fill="#fb6e2c"/><text x="929.43 938.92 950.77 960.76 965.45" y="441.70" style="font-family:&quot;Liberation Sans&quot;,sans-serif;font-weight:bold;font-size:13.30px;" fill="#ee7536">EMA 8</text><rect x="915" y="450.9" width="10" height="9.7" fill="#e8146a"/><text x="929.43 938.92 950.77 960.76 965.47 974.12" y="458.80" style="font-family:&quot;Liberation Sans&quot;,sans-serif;font-weight:bold;font-size:13.30px;" fill="#da1d64">EMA 34</text><rect x="766.8" y="13.9" width="111" height="17" rx="2.5" fill="#0a0a0a" stroke="#2ecc71" stroke-width="2"/><text x="769.36 778.04 786.37 791.59 800.40 809.13 817.78 822.62 831.47 839.90 844.64 853.37 862.12" y="25.90" style="font-family:&quot;Liberation Sans&quot;,sans-serif;font-weight:bold;font-size:13.36px;" fill="#2ecc71">$2,852.40 52W</text><line x1="881" y1="28.7" x2="916" y2="33.3" stroke="#2ecc71" stroke-width="2"/><polygon points="922.5,34 912,29.5 913.5,37" fill="#2ecc71"/><line x1="149" y1="410.5" x2="116" y2="405.8" stroke="#e03030" stroke-width="2"/><polygon points="109,404.8 119.5,401 118.5,409.5" fill="#e03030"/><rect x="152.2" y="408.7" width="96.5" height="16" rx="2.5" fill="#1a1a1a" stroke="#d63031" stroke-width="2"/><text x="154.56 163.19 171.91 180.57 189.24 194.15 202.85 211.23 215.95 224.62 233.32" y="421.00" style="font-family:&quot;Liberation Sans&quot;,sans-serif;font-weight:bold;font-size:13.28px;" fill="#e03535">$884.50 52W</text><rect x="155.7" y="406.5" width="12.5" height="15" fill="#00c853"/><text x="157.69" y="418.30" style="font-family:&quot;Liberation Sans&quot;,sans-serif;font-weight:bold;font-size:11.77px;" fill="#fff">B</text></svg>
</body></html>
